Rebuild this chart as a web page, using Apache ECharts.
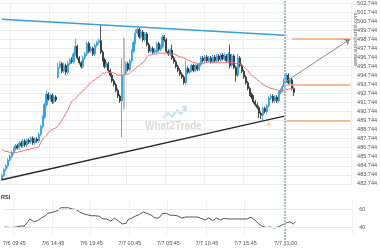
<!DOCTYPE html>
<html><head><meta charset="utf-8">
<script src="https://cdn.jsdelivr.net/npm/echarts@6/dist/echarts.min.js"></script>
<style>html,body{margin:0;padding:0;background:#fff}#c{width:380px;height:250px}</style>
</head><body><div id="c"></div>
<script>
// ---- time categories (15 minute bars, 7/6 08:30 onward) ----
const startDay = 6, startMinutes = 8 * 60 + 30, stepMin = 15, nCats = 181;
const categories = [];
for (let k = 0; k < nCats; k++) {
  const m = startMinutes + k * stepMin;
  const d = startDay + Math.floor(m / 1440);
  const mm = m % 1440;
  categories.push('7/' + d + ' ' + String(Math.floor(mm / 60)).padStart(2, '0') + ':' + String(mm % 60).padStart(2, '0'));
}
const xLabelIdx = [5, 25, 45, 65, 85, 105, 125, 146];
const nowIdx = 146;

const priceTickLabels = ['482.744','483.744','484.744','485.744','486.744','487.744','488.744','489.744','490.744','491.744','492.744','493.744','494.744','495.744','496.744','497.744','498.744','499.744','500.744','501.744','502.744'];
const priceMin = 482.744, priceMax = 502.744;
const rsiTickLabels = [40, 60];

// ---- OHLC: [open, close, low, high] ----
const candles = [
[483.27,483.69,483.05,483.90],[483.69,484.32,483.48,484.53],[484.32,484.74,484.11,484.95],[484.74,485.38,484.53,485.59],
[485.38,485.80,485.17,486.00],[485.80,486.22,485.59,486.43],[486.22,486.64,486.00,486.85],[486.64,486.96,486.43,487.17],
[486.96,486.75,486.54,487.17],[486.75,487.28,486.54,487.49],[487.28,486.96,486.75,487.49],[486.96,487.49,486.75,487.70],
[487.49,487.06,486.85,487.70],[487.06,487.59,486.85,487.80],[487.59,487.38,487.17,487.80],[487.38,487.80,487.17,488.00],
[487.80,487.28,487.06,488.00],[487.28,487.70,487.06,487.91],[487.70,487.49,487.28,487.91],[487.49,488.23,487.28,488.44],
[488.23,489.07,488.00,489.28],[489.07,490.13,488.86,490.34],[490.13,491.50,489.92,491.71],[491.50,492.66,491.29,493.08],
[492.66,492.13,491.93,492.87],[492.13,492.56,491.93,492.77],[492.56,491.82,491.61,492.77],[491.82,492.35,491.61,492.56],
[492.35,492.03,491.82,492.56],[494.56,495.62,494.35,496.15],[495.62,496.04,495.41,496.36],[496.04,495.20,494.99,496.25],
[495.20,495.83,494.99,496.15],[495.83,495.09,494.77,496.04],[495.09,496.04,494.88,496.36],[496.04,496.46,495.83,496.67],
[496.46,496.25,496.04,496.78],[496.25,497.10,496.04,497.31],[497.10,497.94,496.89,498.79],[497.94,496.67,496.46,498.15],
[496.67,496.15,495.94,496.89],[496.15,495.72,495.51,496.36],[495.72,496.67,495.51,496.89],[496.67,497.10,496.46,497.31],
[497.10,498.26,496.89,498.47],[498.26,497.41,497.20,498.47],[497.41,497.73,497.20,497.94],[497.73,497.10,496.89,497.94],
[497.10,498.05,496.89,498.26],[498.05,498.36,497.84,498.58],[498.36,498.58,498.15,498.79],[498.58,497.31,497.10,500.37],
[497.31,496.46,496.25,497.52],[496.46,495.72,495.51,496.67],[495.72,496.04,495.51,496.25],[496.04,495.30,495.09,496.25],
[495.30,494.77,494.56,495.51],[494.77,494.14,493.93,494.99],[494.14,493.72,493.51,494.35],[493.72,493.08,492.87,493.93],
[493.08,492.45,492.24,493.30],[492.45,491.93,491.71,492.66],[491.93,494.77,487.91,496.67],[498.79,491.08,490.87,499.00],
[494.99,496.04,494.77,496.25],[496.04,495.41,495.20,496.25],[495.41,496.36,495.20,496.57],[496.36,497.41,496.15,497.63],
[497.41,498.36,497.20,498.58],[498.36,499.42,498.15,499.84],[499.42,499.84,499.21,500.05],[499.84,499.00,498.79,500.05],
[499.00,499.53,498.79,499.84],[499.53,498.68,498.47,499.74],[498.68,499.31,498.47,499.53],[499.31,498.15,497.94,499.53],
[498.15,497.41,497.20,498.36],[497.41,497.73,497.20,497.94],[497.73,497.31,497.10,497.94],[497.31,497.52,497.10,497.73],
[497.31,498.26,497.10,498.47],[498.26,497.63,497.41,498.47],[497.63,497.94,497.41,498.15],[497.94,499.00,497.73,499.21],
[499.00,498.68,498.47,499.21],[498.68,497.41,497.20,498.89],[497.41,497.10,496.89,497.63],[497.10,497.52,496.89,497.73],
[497.52,496.67,496.46,498.15],[496.67,496.25,496.04,496.89],[496.25,495.72,495.51,496.46],[495.72,495.30,495.09,495.94],
[495.30,494.88,494.67,495.51],[494.88,494.56,494.35,495.09],[494.56,493.93,493.72,494.77],[493.93,495.51,493.72,496.36],
[495.51,495.09,494.88,495.72],[495.09,495.30,494.88,495.51],[495.30,495.83,495.09,496.04],[495.83,495.30,495.09,496.04],
[495.30,495.83,495.09,496.04],[495.83,495.41,495.20,496.04],[495.41,495.94,495.20,496.15],[495.94,496.67,495.72,496.89],
[496.67,496.36,496.15,496.89],[496.36,496.78,496.15,496.99],[496.78,496.36,496.15,496.99],[496.36,496.67,496.15,496.89],
[496.67,496.25,496.04,496.89],[496.25,496.78,496.04,496.99],[496.78,496.36,496.15,496.99],[496.36,496.89,496.15,497.10],
[496.89,496.46,496.25,497.10],[496.46,496.99,496.25,497.20],[496.99,496.57,496.36,497.20],[496.57,496.89,496.36,497.20],
[496.89,496.36,496.15,497.10],[496.36,497.10,496.15,497.31],[497.10,495.83,495.51,498.15],[495.83,496.89,495.62,497.10],
[496.89,495.62,495.41,497.10],[495.62,494.77,494.04,495.83],[494.77,496.67,494.56,497.10],[496.67,495.83,495.62,496.89],
[495.83,495.20,494.99,496.04],[495.20,494.56,494.35,495.41],[494.56,493.93,493.72,494.77],[493.93,493.30,493.08,494.14],
[493.30,492.66,492.45,493.51],[492.66,492.35,492.13,492.87],[492.35,491.82,491.61,492.56],[491.82,491.50,491.29,492.03],
[491.50,491.18,490.97,491.71],[491.18,490.55,490.02,491.39],[490.55,490.34,489.92,490.76],[490.34,491.08,489.81,491.29],
[491.08,490.76,490.55,491.29],[490.76,491.39,490.55,491.61],[491.39,492.24,491.18,492.45],[492.24,492.45,492.03,492.66],
[492.45,491.93,491.71,492.66],[491.93,492.35,491.71,492.56],[492.35,491.93,491.71,492.56],[491.93,492.87,491.71,493.08],
[492.87,493.08,492.66,493.30],[493.08,493.51,492.87,493.72],[493.51,494.35,493.30,494.99],[494.14,494.77,493.93,494.99],
[494.77,493.93,493.72,494.99],[493.93,494.25,493.72,494.46],[494.25,493.30,493.08,494.46],[493.30,492.87,492.45,493.51]
];
const greyCandles = [63];

const ma = [
486.54,486.43,486.33,486.33,486.22,486.22,486.11,486.22,486.22,486.33,486.33,486.43,486.43,486.54,486.54,486.64,486.64,486.75,486.75,486.85,
487.28,487.70,487.91,488.12,488.44,488.65,488.76,488.86,488.97,489.18,489.49,489.81,490.13,490.55,490.87,491.39,491.82,492.03,492.13,492.45,
492.66,492.87,493.08,493.30,493.51,493.72,493.93,494.14,494.25,494.46,494.56,494.77,494.99,494.99,495.09,495.09,495.09,495.09,494.99,494.88,
494.77,494.77,494.77,494.77,494.88,494.88,494.99,495.20,495.30,495.51,495.72,495.83,496.04,496.15,496.46,496.78,496.99,496.99,497.10,
497.10,
497.10,497.20,497.20,497.20,497.20,497.20,497.20,497.10,497.10,497.10,496.99,496.89,496.78,496.78,496.67,496.57,496.46,496.36,496.25,496.15,496.15,
496.04,496.04,496.04,496.04,496.15,496.15,496.25,496.25,496.15,496.15,496.15,496.15,496.15,496.15,496.15,496.15,496.15,496.15,496.15,496.15,
496.04,496.04,496.04,495.83,495.72,495.51,495.30,494.99,494.77,494.56,494.46,494.25,494.14,493.93,493.72,493.61,493.51,493.40,493.30,493.30,
493.19,493.19,493.08,493.08,493.08,493.08,493.19,493.19,493.30,493.30,493.40
];

const rsi = [
40,41,39.5,40.5,39.5,41,40,40.5,41,40.5,41,
41,46,49,48,46,45.6,47,49,50,52,52.5,55,56.5,56,56,57,58.5,59,
61.4,61.5,61.4,61.5,61.4,60.5,60,60.8,59.5,58,56.5,55.5,
54.5,54.4,53.5,51.5,52.5,52,52.5,51.5,52,50,49,48.5,48.9,46.7,46.5,48.5,50,48.9,46.7,45.6,
43.5,43.3,44,48,50,50,51,52.2,52.2,54,55.5,56.7,56,55,54.4,53.3,51.5,50,
50,
50,52,55,56.7,55,53.3,53,53.5,53,52.5,52.2,51,50,51,51.1,51.1,51.1,51.1,51.1,51.1,51.1,
51,49.5,47.8,47.8,48.5,50,48,47,48.5,50,50,48,47.5,49.5,50,49,48.9,48.9,48.9,48.9,48.9,48.9,48.9,48.9,48.9,
49,50.5,51,49,47.5,45.5,43.5,42,40.5,39,39.5,40.3,40,39,38.9,39.5,40,41,42.2,43.5,44.4,45,45.6,45,43.5,45.6
];

// trend lines: [categoryIndex, price]
const resistance = [[0, 500.94], [146, 499.18]];
const support = [[0, 483.21], [146, 490.24]];
// horizontal levels: price, start index
const levelPrices = [498.75, 493.70, 489.76];
const levelStarts = [150, 147, 147];
const levelEnd = 180;
// projection arrow
const projection = [[146, 493.96], [180, 498.75]];
// pattern point marker
const patternPoint = [138, 489.28];

const UP = '#2c9fe0', DOWN = '#2b2b2b', GREY = '#b9b9b9';
const candleData = candles.map((c, i) => greyCandles.includes(i)
  ? { value: c, itemStyle: { color: GREY, color0: GREY, borderColor: GREY, borderColor0: GREY } }
  : c);

const gridL = 1, gridW = 351.14;
const isLabel = (i) => xLabelIdx.includes(i);

const chart = echarts.init(document.getElementById('c'), null, { renderer: 'canvas' });
chart.setOption({
  animation: false,
  textStyle: { fontFamily: 'Arial, Liberation Sans, sans-serif' },
  grid: [
    { left: gridL, width: gridW, top: -5.47, height: 189.4 },
    { left: gridL, width: gridW, top: 200, height: 36 },
    { left: gridL, width: gridW, top: 0, height: 246 }
  ],
  xAxis: [
    { gridIndex: 0, type: 'category', data: categories, boundaryGap: true,
      axisLine: { show: false }, axisTick: { show: false }, axisLabel: { show: false },
      splitLine: { show: true, interval: (i) => isLabel(i) && i !== nowIdx, lineStyle: { color: '#efefef', width: 1 } } },
    { gridIndex: 1, type: 'category', data: categories, boundaryGap: true,
      axisLine: { show: false }, axisTick: { show: false },
      axisLabel: { interval: (i) => isLabel(i), fontSize: 5.5, color: '#555', margin: 4 },
      splitLine: { show: true, interval: (i) => isLabel(i) && i !== nowIdx, lineStyle: { color: '#f3f3f3', width: 1 } } },
    { gridIndex: 2, type: 'category', data: categories, boundaryGap: true, show: false }
  ],
  yAxis: [
    { gridIndex: 0, type: 'value', min: priceMin, max: priceMax, show: false, position: 'left' },
    { gridIndex: 0, type: 'value', min: 0, max: priceTickLabels.length - 1, interval: 1, position: 'right',
      axisLine: { show: false }, axisTick: { show: false },
      axisLabel: { formatter: (v) => priceTickLabels[v] || '', fontSize: 5.5, color: '#555', margin: 6 },
      splitLine: { show: true, lineStyle: { color: '#ececec', width: 1 } } },
    { gridIndex: 1, type: 'value', min: 30, max: 70, interval: 10, position: 'right',
      axisLine: { show: false }, axisTick: { show: false }, splitLine: { show: false },
      axisLabel: { formatter: (v) => rsiTickLabels.includes(v) ? String(v) : '', fontSize: 5.5, color: '#555', margin: 7 } },
    { gridIndex: 2, type: 'value', min: 0, max: 1, show: false }
  ],
  series: [
    { type: 'line', xAxisIndex: 2, yAxisIndex: 3, data: [], silent: true,
      markLine: { silent: true, symbol: ['none', 'none'], label: { show: false },
        lineStyle: { color: '#aab9c5', width: 2, type: [2, 1] },
        data: [{ xAxis: categories[nowIdx] }] } },
    { type: 'line', xAxisIndex: 1, yAxisIndex: 2, data: rsi, symbol: 'none', silent: true,
      lineStyle: { color: '#555', width: 1 },
      markLine: { silent: true, symbol: ['none', 'none'], label: { show: false },
        lineStyle: { color: '#e8e8e8', width: 1, type: 'solid' },
        data: rsiTickLabels.map(v => ({ yAxis: v })) } },
    { type: 'line', xAxisIndex: 0, yAxisIndex: 0, data: ma, symbol: 'none', smooth: 0.3, silent: true,
      lineStyle: { color: '#f26d6d', width: 1 } },
    { type: 'candlestick', xAxisIndex: 0, yAxisIndex: 0, data: candleData, barWidth: '82%', silent: true,
      itemStyle: { color: UP, color0: DOWN, borderColor: UP, borderColor0: DOWN, borderWidth: 0.8 },
      markPoint: { silent: true, symbol: 'circle', symbolSize: 1,
        itemStyle: { color: 'rgba(0,0,0,0)' },
        label: { show: true, formatter: 'A', color: '#f2a070', fontSize: 6, position: 'inside' },
        data: [{ coord: [categories[patternPoint[0]], patternPoint[1]] }] } },
    { type: 'line', xAxisIndex: 0, yAxisIndex: 0, symbol: 'none', silent: true,
      data: resistance.map(p => [categories[p[0]], p[1]]), lineStyle: { color: '#3aa0da', width: 1.5 } },
    { type: 'line', xAxisIndex: 0, yAxisIndex: 0, symbol: 'none', silent: true,
      data: support.map(p => [categories[p[0]], p[1]]), lineStyle: { color: '#2a2a2a', width: 1.5 } },
    { type: 'line', xAxisIndex: 0, yAxisIndex: 0, data: [], silent: true,
      markLine: { silent: true, label: { show: false }, symbol: ['none', 'none'],
        data: levelPrices.map((p, k) => [
          { coord: [categories[levelStarts[k]], p], lineStyle: { color: '#f6a674', width: 1.5, type: 'solid' } },
          { coord: [categories[levelEnd], p] }
        ]).concat([[
          { coord: [categories[projection[0][0]], projection[0][1]], symbol: 'none', lineStyle: { color: '#8a8a8a', width: 1, type: 'solid' } },
          { coord: [categories[projection[1][0]], projection[1][1]], symbol: 'arrow', symbolSize: 6 }
        ]]) } }
  ],
  graphic: [
    { type: 'text', left: 1, top: 194, silent: true, style: { text: 'RSI', fontSize: 5.5, fontWeight: 'bold', fill: '#333', fontFamily: 'Arial' } },
    { type: 'polyline', silent: true, shape: { points: [[163, 118], [168, 113], [172, 116.5], [177, 110.5], [181, 114], [186, 107]] },
      style: { stroke: '#c8e0f3', lineWidth: 2, fill: null } },
    { type: 'polyline', silent: true, shape: { points: [[182, 106.5], [186, 107], [185.5, 111]] },
      style: { stroke: '#c8e0f3', lineWidth: 2, fill: null } },
    { type: 'text', x: 145, y: 121, silent: true, style: { text: 'What2Trade', font: 'bold 10px Arial', fill: '#dadada' } },
    { type: 'text', x: 355, y: 66, rotation: Math.PI / 2, silent: true,
      style: { text: 'www.autochartist.com', fontSize: 5.5, fill: '#666', fontFamily: 'Arial', textVerticalAlign: 'middle' } }
  ]
});
</script>
</body></html>
